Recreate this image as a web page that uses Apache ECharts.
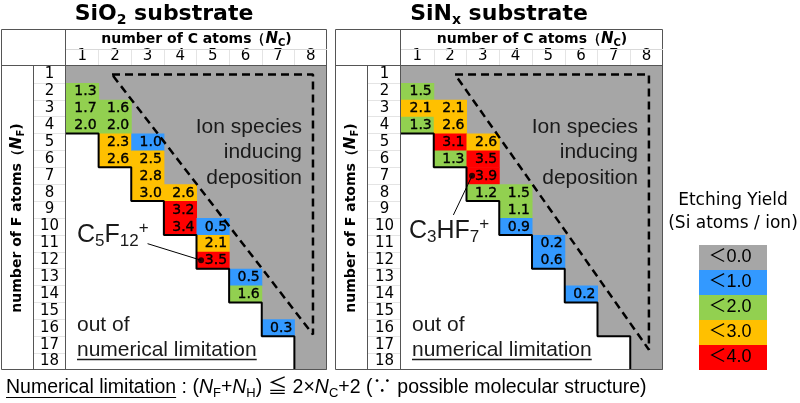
<!DOCTYPE html>
<html><head><meta charset="utf-8">
<script src="https://cdn.jsdelivr.net/npm/echarts@6/dist/echarts.min.js"></script>
<style>html,body{margin:0;padding:0;background:#fff}#c{width:800px;height:403px}</style>
</head><body><div id="c"></div>
<script>
// ---------------- data ----------------
const ncTicks = [1, 2, 3, 4, 5, 6, 7, 8];
const nfTicks = [1, 2, 3, 4, 5, 6, 7, 8, 9, 10, 11, 12, 13, 14, 15, 16, 17, 18];
// numerical limitation: max NF for each NC  (NF+NH <= 2*NC+2)
const limitNF = [4, 6, 8, 10, 12, 14, 16, 18];
// [NC, NF, etching yield]
const sio2Cells = [
  [1, 2, 1.3], [1, 3, 1.7], [1, 4, 2.0],
  [2, 3, 1.6], [2, 4, 2.0], [2, 5, 2.3], [2, 6, 2.6],
  [3, 5, 1.0], [3, 6, 2.5], [3, 7, 2.8], [3, 8, 3.0],
  [4, 8, 2.6], [4, 9, 3.2], [4, 10, 3.4],
  [5, 10, 0.5], [5, 11, 2.1], [5, 12, 3.5],
  [6, 13, 0.5], [6, 14, 1.6],
  [7, 16, 0.3]
];
const sinxCells = [
  [1, 2, 1.5], [1, 3, 2.1], [1, 4, 1.3],
  [2, 3, 2.1], [2, 4, 2.6], [2, 5, 3.1], [2, 6, 1.3],
  [3, 5, 2.6], [3, 6, 3.5], [3, 7, 3.9], [3, 8, 1.2],
  [4, 8, 1.5], [4, 9, 1.1], [4, 10, 0.9],
  [5, 11, 0.2], [5, 12, 0.6],
  [6, 14, 0.2]
];
const panelTitles = ['{b|SiO}{bs|2}{b| substrate}', '{b|SiN}{bs|x}{b| substrate}'];
const legendLabels = ['＜0.0', '＜1.0', '＜2.0', '＜3.0', '＜4.0'];
const legendUpper = [0.0, 1.0, 2.0, 3.0, 4.0];
const legendColors = ['#A6A6A6', '#3399FF', '#92D050', '#FFC000', '#FF0000'];
// annotated ions: cell they point to
const annotatedIons = [
  { panel: 0, nc: 5, nf: 12, formula: '{m|C}{s|5}{m|F}{s|12}{p|+}' },
  { panel: 1, nc: 3, nf: 7, formula: '{m|C}{s|3}{m|HF}{s|7}{p|+}' }
];

// ---------------- layout / styles ----------------
const DJ = '"DejaVu Sans", Verdana, sans-serif';
const AR = '"Liberation Sans", Arial, "Noto Sans CJK JP", sans-serif';
const PANELS = [{ L: 1, G: 66, R: 327 }, { L: 335, G: 401, R: 663 }];
const TOP = 29, HEAD = 49, GT = 66, BOT = 370;
const depositionZone = [
  [[1.91, 1.0], [8.07, 1.0], [8.07, 16.4], [1.91, 1.0]],
  [[2.15, 1.0], [8.07, 1.0], [8.07, 17.3], [2.15, 1.0]]
];
const annLayout = [
  { from: [3.0, 11.02], dx: -0.36, tx: 77, ty: 235 },
  { from: [2.10, 9.32], dx: -0.33, tx: 409, ty: 231 }
];

const mctx = document.createElement('canvas').getContext('2d');
function textW(font, s) { mctx.font = font; return mctx.measureText(s).width; }

function yieldColor(v) {
  for (let i = 1; i < legendUpper.length; i++) if (v <= legendUpper[i] + 1e-9) return legendColors[i];
  return legendColors[legendColors.length - 1];
}

const grids = [], xAxes = [], yAxes = [], series = [], graphics = [];
const BORDER = '#555', LIGHT = '#d9d9d9';

PANELS.forEach((P, p) => {
  const cells = p === 0 ? sio2Cells : sinxCells;
  grids.push({ left: P.G, top: GT, width: P.R - P.G, height: BOT - GT });
  xAxes.push({
    gridIndex: p, type: 'value', position: 'top', min: 0.5, max: 8.5,
    axisLine: { show: false },
    axisTick: { show: true, customValues: ncTicks.slice(1).map(v => v - 0.5), length: 17, lineStyle: { color: '#e4e4e4' } },
    axisLabel: { customValues: ncTicks, fontSize: 15, fontFamily: DJ, color: '#000', margin: 2.5 },
    splitLine: { show: false }
  });
  yAxes.push({
    gridIndex: p, type: 'value', inverse: true, min: 0.5, max: 18.5,
    axisLine: { show: false },
    axisTick: { show: true, customValues: nfTicks.slice(1).map(v => v - 0.5), length: 33, lineStyle: { color: '#e4e4e4' } },
    axisLabel: { customValues: nfTicks, fontSize: 15, fontFamily: DJ, color: '#000', margin: 16.5, align: 'center' },
    splitLine: { show: false }
  });
  // gray region (valid ions not listed -> deposition)
  series.push({
    type: 'custom', xAxisIndex: p, yAxisIndex: p, z: 1, silent: true, data: [[1, 1]],
    renderItem: (params, api) => {
      const pts = [api.coord([0.5, 0.5]), api.coord([8.5, 0.5])];
      for (let i = ncTicks.length - 1; i >= 0; i--) {
        const nc = ncTicks[i], b = Math.min(limitNF[i], 18) + 0.5;
        pts.push(api.coord([nc + 0.5, b]), api.coord([nc - 0.5, b]));
      }
      return { type: 'polygon', shape: { points: pts }, style: { fill: legendColors[0] } };
    }
  });
  // colored cells
  series.push({
    type: 'custom', xAxisIndex: p, yAxisIndex: p, z: 2, silent: true, data: cells,
    renderItem: (params, api) => {
      const nc = api.value(0), nf = api.value(1), v = api.value(2);
      const a = api.coord([nc - 0.5, nf - 0.5]), b = api.coord([nc + 0.5, nf + 0.5]);
      const x = Math.min(a[0], b[0]), y = Math.min(a[1], b[1]);
      const w = Math.abs(b[0] - a[0]), h = Math.abs(b[1] - a[1]);
      return {
        type: 'group', children: [
          { type: 'rect', shape: { x: x, y: y, width: w + 0.5, height: h + 0.5 }, style: { fill: yieldColor(v) } },
          { type: 'text', x: x + w - 2, y: y + h / 2 + 0.5, style: { text: v.toFixed(1), align: 'right', verticalAlign: 'middle', font: '14px ' + DJ, fill: '#000', stroke: '#000', lineWidth: 0.35 } }
        ]
      };
    }
  });
  // staircase (numerical limitation)
  const stair = [];
  ncTicks.forEach((nc, i) => {
    const b = Math.min(limitNF[i], 18) + 0.5;
    stair.push([nc - 0.5, b]);
    if (b < 18.5) stair.push([nc + 0.5, b]);
  });
  series.push({
    type: 'line', xAxisIndex: p, yAxisIndex: p, z: 3, silent: true, clip: false, symbol: 'none',
    data: stair, lineStyle: { color: '#000', width: 2 }
  });
  // deposition zone (dashed)
  series.push({
    type: 'line', xAxisIndex: p, yAxisIndex: p, z: 4, silent: true, clip: false, symbol: 'none',
    data: depositionZone[p], lineStyle: { color: '#000', width: 2.5, type: [8, 5] }
  });
  // titles / headers
  graphics.push({
    type: 'text', x: (P.L + P.R) / 2, y: 14, z: 100, silent: true,
    style: {
      text: panelTitles[p], align: 'center', verticalAlign: 'middle', fill: '#000',
      rich: {
        b: { fontFamily: DJ, fontWeight: 'bold', fontSize: 22, lineHeight: 26 },
        bs: { fontFamily: DJ, fontWeight: 'bold', fontSize: 14, lineHeight: 14, verticalAlign: 'bottom' }
      }
    }
  });
  const hdrRich = {
    a: { fontFamily: DJ, fontWeight: 'bold', fontSize: 14, lineHeight: 18 },
    i: { fontFamily: DJ, fontWeight: 'bold', fontStyle: 'italic', fontSize: 15, lineHeight: 18 },
    s: { fontFamily: DJ, fontWeight: 'bold', fontSize: 10, lineHeight: 10, verticalAlign: 'bottom' }
  };
  graphics.push({
    type: 'text', x: (P.G + P.R) / 2, y: 39, z: 100, silent: true,
    style: { text: '{a|number of C atoms（}{i|N}{s|C}{a|)}', align: 'center', verticalAlign: 'middle', fill: '#000', rich: hdrRich }
  });
  graphics.push({
    type: 'text', x: (P.L + P.L + 32) / 2, y: (GT + BOT) / 2, rotation: Math.PI / 2, z: 100, silent: true,
    style: { text: '{a|number of F atoms（}{i|N}{s|F}{a|)}', align: 'center', verticalAlign: 'middle', fill: '#000', rich: hdrRich }
  });
  // region texts
  ['Ion species', 'inducing', 'deposition'].forEach((t, k) => {
    graphics.push({
      type: 'text', x: P.R - 25, y: 127 + k * 25.5, z: 100, silent: true,
      style: { text: t, align: 'right', verticalAlign: 'middle', font: '21px ' + AR, fill: '#1a1a1a' }
    });
  });
  graphics.push({
    type: 'text', x: P.G + 11, y: 325, z: 100, silent: true,
    style: { text: 'out of', align: 'left', verticalAlign: 'middle', font: '21px ' + AR, fill: '#1a1a1a' }
  });
  graphics.push({
    type: 'text', x: P.G + 11, y: 350, z: 100, silent: true,
    style: { text: 'numerical limitation', align: 'left', verticalAlign: 'middle', font: '21px ' + AR, fill: '#1a1a1a' }
  });
  const ulw = textW('21px ' + AR, 'numerical limitation');
  graphics.push({
    type: 'line', z: 100, silent: true,
    shape: { x1: P.G + 11, y1: 359.5, x2: P.G + 11 + ulw, y2: 359.5 },
    style: { stroke: '#1a1a1a', lineWidth: 1.5 }
  });
  // borders
  graphics.push({ type: 'rect', z: 100, silent: true, shape: { x: P.L + 0.5, y: TOP + 0.5, width: P.R - P.L - 1, height: BOT - TOP - 1 }, style: { fill: 'none', stroke: BORDER, lineWidth: 1 } });
  graphics.push({ type: 'line', z: 100, silent: true, shape: { x1: P.G - 0.5, y1: TOP, x2: P.G - 0.5, y2: BOT }, style: { stroke: BORDER, lineWidth: 1 } });
  graphics.push({ type: 'line', z: 100, silent: true, shape: { x1: P.L, y1: GT - 0.5, x2: P.R, y2: GT - 0.5 }, style: { stroke: BORDER, lineWidth: 1 } });
  graphics.push({ type: 'line', z: 100, silent: true, shape: { x1: P.L + 32.5, y1: GT, x2: P.L + 32.5, y2: BOT }, style: { stroke: BORDER, lineWidth: 1 } });
  graphics.push({ type: 'line', z: 100, silent: true, shape: { x1: P.G, y1: HEAD + 0.5, x2: P.R, y2: HEAD + 0.5 }, style: { stroke: LIGHT, lineWidth: 1 } });
});

// annotations
annotatedIons.forEach((a, k) => {
  const L = annLayout[k];
  const dot = [a.nc + L.dx, a.nf];
  series.push({
    type: 'line', xAxisIndex: a.panel, yAxisIndex: a.panel, z: 5, silent: true, clip: false, symbol: 'none',
    data: [L.from, dot], lineStyle: { color: '#000', width: 1 }
  });
  series.push({
    type: 'scatter', xAxisIndex: a.panel, yAxisIndex: a.panel, z: 6, silent: true, clip: false,
    data: [dot], symbolSize: 6, itemStyle: { color: '#000' }
  });
  graphics.push({
    type: 'text', x: L.tx, y: L.ty, z: 100, silent: true,
    style: {
      text: a.formula, align: 'left', verticalAlign: 'middle', fill: '#1a1a1a',
      rich: {
        m: { fontFamily: AR, fontSize: 25, lineHeight: 30 },
        s: { fontFamily: AR, fontSize: 17, lineHeight: 17, verticalAlign: 'bottom' },
        p: { fontFamily: AR, fontSize: 17, lineHeight: 17, verticalAlign: 'top' }
      }
    }
  });
});

// legend
graphics.push({ type: 'text', x: 733, y: 201, z: 100, silent: true, style: { text: 'Etching Yield', align: 'center', verticalAlign: 'middle', font: '17px ' + DJ, fill: '#000' } });
graphics.push({ type: 'text', x: 733, y: 224, z: 100, silent: true, style: { text: '(Si atoms / ion)', align: 'center', verticalAlign: 'middle', font: '17px ' + DJ, fill: '#000' } });
legendLabels.forEach((t, i) => {
  graphics.push({ type: 'rect', z: 99, silent: true, shape: { x: 699, y: 245 + i * 25, width: 68, height: 25 }, style: { fill: legendColors[i] } });
  graphics.push({ type: 'text', x: 730, y: 257.5 + i * 25, z: 100, silent: true, style: { text: t, align: 'center', verticalAlign: 'middle', font: '18px ' + AR, fill: '#000' } });
});

// bottom note
const NOTE_FS = 19.5;
const noteFont = NOTE_FS + 'px ' + AR;
graphics.push({
  type: 'text', x: 6, y: 388, z: 100, silent: true,
  style: {
    text: '{n|Numerical limitation}{n| : (}{i|N}{s|F}{n|+}{i|N}{s|H}{n|) ≦ 2×}{i|N}{s|C}{n|+2 (∵ possible molecular structure)}',
    align: 'left', verticalAlign: 'middle', fill: '#000',
    rich: {
      n: { fontFamily: AR, fontSize: NOTE_FS, lineHeight: 24 },
      i: { fontFamily: AR, fontStyle: 'italic', fontSize: NOTE_FS, lineHeight: 24 },
      s: { fontFamily: AR, fontSize: 13, lineHeight: 13, verticalAlign: 'bottom' }
    }
  }
});
const nlw = textW(noteFont, 'Numerical limitation');
graphics.push({ type: 'line', z: 100, silent: true, shape: { x1: 6, y1: 397.5, x2: 6 + nlw, y2: 397.5 }, style: { stroke: '#000', lineWidth: 1 } });

const chart = echarts.init(document.getElementById('c'), null, { renderer: 'canvas' });
chart.setOption({
  backgroundColor: '#fff',
  animation: false,
  grid: grids,
  xAxis: xAxes,
  yAxis: yAxes,
  series: series,
  graphic: { elements: graphics }
});
</script>
</body></html>
